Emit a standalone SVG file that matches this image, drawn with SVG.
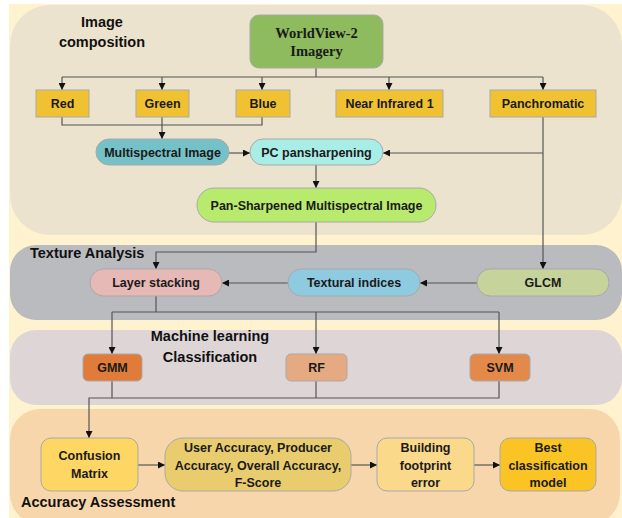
<svg xmlns="http://www.w3.org/2000/svg" width="622" height="518" viewBox="0 0 622 518">
<style>
.t{font-family:"Liberation Sans",Arial,sans-serif;font-weight:bold;font-size:12.5px;fill:#1a1a1a;text-anchor:middle}
.h{font-family:"Liberation Sans",Arial,sans-serif;font-weight:bold;font-size:14.5px;fill:#111}
.s{font-family:"Liberation Serif","Times New Roman",serif;font-weight:bold;font-size:14.5px;fill:#1a1a1a;text-anchor:middle}
.n{stroke:#a9a9a9;stroke-width:1}
.c{fill:none;stroke:#555;stroke-width:1.2}
</style>
<defs>
<marker id="a" viewBox="0 0 10 10" refX="10" refY="5" markerWidth="7" markerHeight="7" orient="auto" markerUnits="userSpaceOnUse"><path d="M0,0 L10,5 L0,10 z" fill="#111"/></marker>
</defs>
<g id="panels">
<rect x="9" y="4" width="613" height="514" fill="#FFF3CF"/>
<rect x="10" y="5" width="612" height="230" rx="40" fill="#ECE3CE"/>
<rect x="10" y="245" width="612" height="75" rx="26" fill="#B9BBBF"/>
<rect x="10" y="330" width="612" height="75" rx="26" fill="#DED5D7"/>
<rect x="10" y="409" width="610" height="115" rx="30" fill="#F8D6AC"/>
<text class="h" x="102" y="27" text-anchor="middle">Image</text>
<text class="h" x="102" y="47" text-anchor="middle">composition</text>
<text class="h" x="30" y="258">Texture Analysis</text>
<text class="h" x="210" y="341" text-anchor="middle">Machine learning</text>
<text class="h" x="210" y="362" text-anchor="middle">Classification</text>
<text class="h" x="21" y="507">Accuracy Assessment</text>
</g>
<g id="connectors">
<path class="c" d="M316,68 V77"/>
<path class="c" d="M62,77 H543"/>
<path class="c" d="M62,77 V90" marker-end="url(#a)"/>
<path class="c" d="M162,77 V90" marker-end="url(#a)"/>
<path class="c" d="M262,77 V90" marker-end="url(#a)"/>
<path class="c" d="M389,77 V90" marker-end="url(#a)"/>
<path class="c" d="M543,77 V90" marker-end="url(#a)"/>
<path class="c" d="M62,117 V125 H262 V117"/>
<path class="c" d="M162,117 V139" marker-end="url(#a)"/>
<path class="c" d="M229,153 H250" marker-end="url(#a)"/>
<path class="c" d="M543,117 V269" marker-end="url(#a)"/>
<path class="c" d="M543,153 H383" marker-end="url(#a)"/>
<path class="c" d="M316,165 V188" marker-end="url(#a)"/>
<path class="c" d="M316,222 V252 H156 V269" marker-end="url(#a)"/>
<path class="c" d="M477,283 H420" marker-end="url(#a)"/>
<path class="c" d="M288,283 H222" marker-end="url(#a)"/>
<path class="c" d="M156,296 V312"/>
<path class="c" d="M112,312 H499"/>
<path class="c" d="M112,312 V354" marker-end="url(#a)"/>
<path class="c" d="M316,312 V354" marker-end="url(#a)"/>
<path class="c" d="M499,312 V354" marker-end="url(#a)"/>
<path class="c" d="M112,381 V398"/>
<path class="c" d="M316,381 V398"/>
<path class="c" d="M499,381 V398 H89 V438" marker-end="url(#a)"/>
<path class="c" d="M138,465 H165" marker-end="url(#a)"/>
<path class="c" d="M351,465 H377" marker-end="url(#a)"/>
<path class="c" d="M474,465 H500" marker-end="url(#a)"/>
</g>
<g id="worldview"><rect class="n" x="250" y="15" width="133" height="53" rx="9" fill="#8DBB5E"/><text class="s" x="316.5" y="37.5">WorldView-2</text><text class="s" x="316.5" y="55.5">Imagery</text></g>
<g id="red"><rect class="n" x="36" y="90" width="53" height="27" fill="#F0C232"/><text class="t" x="62.5" y="108">Red</text></g>
<g id="green"><rect class="n" x="136" y="90" width="53" height="27" fill="#F0C232"/><text class="t" x="162.5" y="108">Green</text></g>
<g id="blue"><rect class="n" x="236" y="90" width="54" height="27" fill="#F0C232"/><text class="t" x="263" y="108">Blue</text></g>
<g id="nir"><rect class="n" x="336" y="90" width="107" height="27" fill="#F0C232"/><text class="t" x="389.5" y="108">Near Infrared 1</text></g>
<g id="pan"><rect class="n" x="490" y="90" width="106" height="27" fill="#F0C232"/><text class="t" x="543" y="108">Panchromatic</text></g>
<g id="ms"><rect class="n" x="96" y="139" width="133" height="26" rx="13" fill="#74C2C8"/><text class="t" x="162.5" y="157">Multispectral Image</text></g>
<g id="pc"><rect class="n" x="250" y="139" width="133" height="26" rx="13" fill="#A8EDE6"/><text class="t" x="316.5" y="157">PC pansharpening</text></g>
<g id="psms"><rect class="n" x="197" y="188" width="239" height="34" rx="17" fill="#B8EA6E"/><text class="t" x="316.5" y="209.5">Pan-Sharpened Multispectral Image</text></g>
<g id="layer"><rect class="n" x="90" y="269" width="132" height="27" rx="13.5" fill="#E6B9B6"/><text class="t" x="156" y="287">Layer stacking</text></g>
<g id="textural"><rect class="n" x="288" y="269" width="132" height="27" rx="13.5" fill="#8FCBE0"/><text class="t" x="354" y="287">Textural indices</text></g>
<g id="glcm"><rect class="n" x="477" y="269" width="132" height="27" rx="13.5" fill="#C6D39B"/><text class="t" x="543" y="287">GLCM</text></g>
<g id="gmm"><rect class="n" x="83" y="354" width="59" height="27" rx="5" fill="#E07B39"/><text class="t" x="112.5" y="372">GMM</text></g>
<g id="rf"><rect class="n" x="286" y="354" width="61" height="27" rx="5" fill="#E6AA82"/><text class="t" x="316.5" y="372">RF</text></g>
<g id="svm"><rect class="n" x="470" y="354" width="60" height="27" rx="5" fill="#E3894A"/><text class="t" x="500" y="372">SVM</text></g>
<g id="confusion"><rect class="n" x="41" y="438" width="97" height="53" rx="10" fill="#FDD663"/><text class="t" x="89.5" y="460">Confusion</text><text class="t" x="89.5" y="478">Matrix</text></g>
<g id="accuracy"><rect class="n" x="165" y="438" width="186" height="53" rx="18" fill="#E9CC6E"/><text class="t" x="258" y="452">User Accuracy, Producer</text><text class="t" x="258" y="469.5">Accuracy, Overall Accuracy,</text><text class="t" x="258" y="487">F-Score</text></g>
<g id="building"><rect class="n" x="377" y="438" width="97" height="53" rx="10" fill="#FAD98B"/><text class="t" x="425.5" y="452">Building</text><text class="t" x="425.5" y="469.5">footprint</text><text class="t" x="425.5" y="487">error</text></g>
<g id="best"><rect class="n" x="500" y="438" width="96" height="53" rx="10" fill="#F9C424"/><text class="t" x="548" y="452">Best</text><text class="t" x="548" y="469.5">classification</text><text class="t" x="548" y="487">model</text></g>
</svg>
